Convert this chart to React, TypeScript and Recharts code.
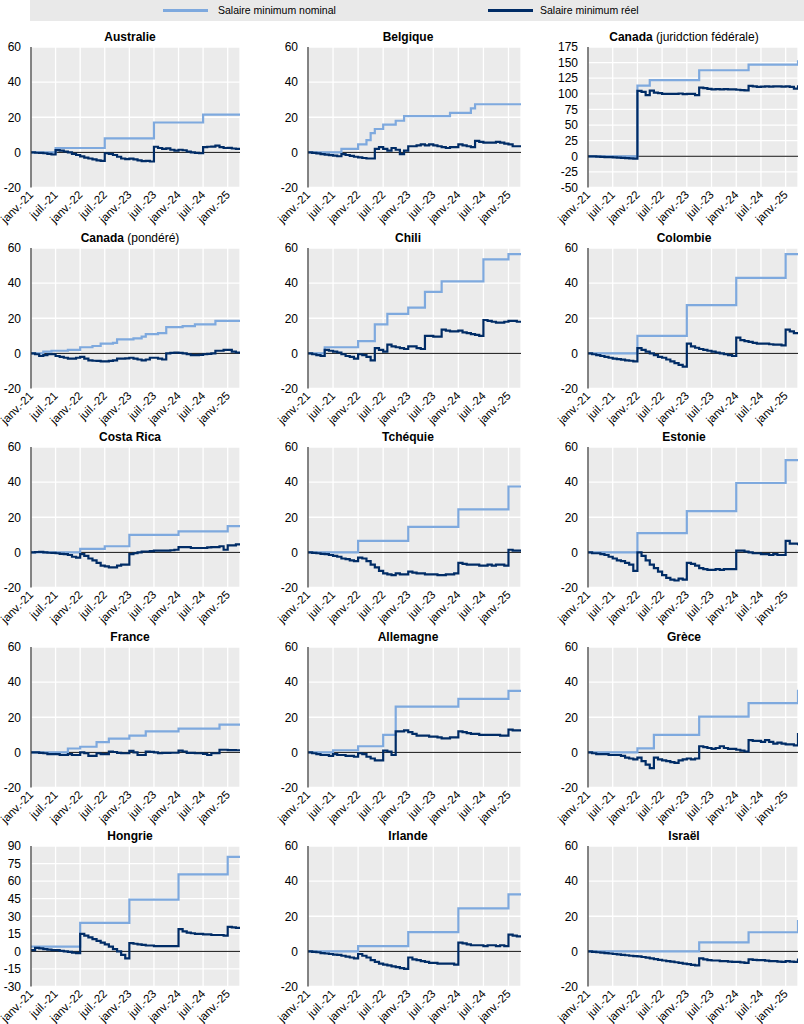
import React from "react";
import { LineChart, Line, XAxis, YAxis, CartesianGrid, ReferenceLine } from "recharts";

// ---------- tick labels ----------
const xTickValues = [0, 6, 12, 18, 24, 30, 36, 42, 48];
const xTickLabels = ["janv.-21", "juil.-21", "janv.-22", "juil.-22", "janv.-23", "juil.-23", "janv.-24", "juil.-24", "janv.-25"];
const ticksStd = [-20, 0, 20, 40, 60];
const ticksCanFed = [-50, -25, 0, 25, 50, 75, 100, 125, 150, 175];
const ticksHongrie = [-30, -15, 0, 15, 30, 45, 60, 75, 90];

// ---------- series (monthly, janv.-21 .. avr.-25) ----------
const australieNominal = [0,0,0,0,0,0, 2.5,2.5,2.5,2.5,2.5,2.5,2.5,2.5,2.5,2.5,2.5,2.5, 8,8,8,8,8,8,8,8,8,8,8,8, 17,17,17,17,17,17,17,17,17,17,17,17, 21.5,21.5,21.5,21.5,21.5,21.5,21.5,21.5,21.5,21.5];
const australieReel = [0,-0.2,-0.3,-0.5,-0.8,-1.2, 1.3,1.0,0.5,0,-0.8,-1.5, -2.3,-3,-3.5,-4,-4.5,-4.8, -0.5,-0.8,-1.5,-2.5,-3.5,-3.8, -3.6,-4,-4.5,-5,-4.8,-5.2, 3.2,2.5,2,2.3,1.5,1, 1.5,1.2,0.5,0,-0.3,-0.5, 3,3.2,3.3,3.8,3,2.5, 2.6,2.2,2,1.5];

const belgiqueNominal = [0,0,0,0,0,0,0,0, 2,2,2,2, 4.5,4.5, 7, 11, 13.3,13.3, 15.8,15.8,15.8, 18,18, 20.6,20.6,20.6,20.6,20.6,20.6,20.6,20.6,20.6,20.6,20.6, 22.5,22.5,22.5,22.5,22.5, 25, 27.4,27.4,27.4,27.4,27.4,27.4,27.4,27.4,27.4,27.4,27.4,27.4];
const belgiqueReel = [0,-0.3,-0.6,-1,-1.3,-1.6,-1.8,-2.2, -1,-1.5,-2,-2.5, -2.8,-3.2,-3.5,-3.5, 2,3, 2,1,2.5,1.5, -1,1, 3.5,3.5,4,4.5,4,4.5, 4,3.5,3,2.5,3,3, 4.5,4,3.5,3, 6.5,6, 5.5,5.5,5.5,6,5.5,5, 4.5,3.5,3.5,4];

const canadaFedNominal = [0,0,0,0,0,0,0,0,0,0,0,0, 113,113,113, 121.8,121.8,121.8,121.8,121.8,121.8,121.8,121.8,121.8,121.8,121.8,121.8, 137.8,137.8,137.8,137.8,137.8,137.8,137.8,137.8,137.8,137.8,137.8,137.8, 146.8,146.8,146.8,146.8,146.8,146.8,146.8,146.8,146.8,146.8,146.8,146.8, 153.7];
const canadaFedReel = [0,-0.3,-0.6,-0.9,-1.2,-1.5,-1.8,-2.1,-2.4,-2.8,-3.2,-3.6, 104.8,103,98, 105,102,101,100,100,100,100,100.5,99.5,100,100,98, 110,109,108,107,107.5,107,107.5,107,107,106.5,106,105.5, 112.8,112,111,111.5,112,111.5,112,112,111.5,112,111,108.5, 113.8];

const canadaPondNominal = [0,0,0,1,1,1.5,1.5,1.5,1.5,2,2,2, 3.5,3.5,3.5,4.2,4.2,5.5,5.5,5.5,6,8,8,8, 8,8.5,8.5,9.5,11,11,11,11.5,11.5,15,15,15, 15,15.5,15.5,15.5,16.5,16.5,16.5,16.5,16.5,18.5,18.5,18.5, 18.5,18.5,18.5,18.5];
const canadaPondReel = [0,-0.5,-1.5,-1,-0.5,-0.5,-1.5,-2,-2.5,-3,-3,-2.5, -2,-3,-4,-4.2,-4.3,-4.5,-4.5,-4.3,-4,-3,-3,-2.8, -2.5,-3,-3.5,-4,-3.5,-2.5,-2.5,-3,-3.5,0,0.3,0.5, 0.3,0,-0.5,-1,-1,-0.8,-0.5,-0.3,0,1.5,1.5,2, 2,1,0.5,0.5];

const chiliNominal = [0,0,0,0, 3.5,3.5,3.5,3.5,3.5,3.5,3.5,3.5, 7,7,7,7, 16.5,16.5,16.5, 22.5,22.5,22.5,22.5,22.5, 26,26,26,26, 35,35,35,35, 41,41,41,41,41,41,41,41,41,41, 53.5,53.5,53.5,53.5,53.5,53.5, 56.5,56.5,56.5,56.5];
const chiliReel = [0,-0.5,-1,-1.5, 2,1.5,1,0.5,-0.5,-1.5,-2,-3, -0.5,-1,-2,-4, 3,2,1, 5,4,3.5,3,2.5, 4,4,3,2.5, 10,10,9.5,9.5, 13.5,13,12.5,12.5,13,12,11.5,11,10.5,10, 19,18.5,18,17.5,17.5,18, 18.5,18.5,18,17.5];

const colombieNominal = [0,0,0,0,0,0,0,0,0,0,0,0, 10,10,10,10,10,10,10,10,10,10,10,10, 27.5,27.5,27.5,27.5,27.5,27.5,27.5,27.5,27.5,27.5,27.5,27.5, 43,43,43,43,43,43,43,43,43,43,43,43, 56.5,56.5,56.5,56.5];
const colombieReel = [0,-0.5,-1,-1.5,-2,-2.5,-3,-3.3,-3.6,-4,-4.2,-4.5, 3,2,1,0,-1,-2,-2.5,-3.5,-4.5,-5.5,-6.5,-7.5, 5.5,4,3.2,2.5,2,1.5,1,0.5,0,-0.5,-1,-1.5, 9,7.5,7,6.5,6,5.5,5.5,5.5,5.2,5,5,4.5, 13.5,12.5,11.5,11];

const costaRicaNominal = [0,0,0,0,0,0,0,0,0,0,0,0, 2,2,2,2,2,2, 3.5,3.5,3.5,3.5,3.5,3.5, 10,10,10,10,10,10,10,10,10,10,10,10, 12,12,12,12,12,12,12,12,12,12,12,12, 15,15,15,15];
const costaRicaReel = [0,0.2,0.3,0,-0.2,-0.3,-0.5,-0.8,-1,-1.5,-2.5,-3, -1,-2,-3.5,-4.5,-6,-7.5,-8,-8.5,-8.5,-7.5,-7,-7, -1,-0.5,0,0.5,0.5,0.7,1,1,1,1,1.2,1.5, 3,3,3,2.5,2.5,2.5,2.5,2.8,3,3,3.5,1.5, 4,4,4.5,5];

const tchequieNominal = [0,0,0,0,0,0,0,0,0,0,0,0, 6.5,6.5,6.5,6.5,6.5,6.5,6.5,6.5,6.5,6.5,6.5,6.5, 14.5,14.5,14.5,14.5,14.5,14.5,14.5,14.5,14.5,14.5,14.5,14.5, 24.5,24.5,24.5,24.5,24.5,24.5,24.5,24.5,24.5,24.5,24.5,24.5, 37.5,37.5,37.5,37.5];
const tchequieReel = [0,-0.3,-0.5,-0.8,-1,-1.5,-2,-2.5,-3.5,-3.8,-4.5,-5, -3,-3.5,-5,-7,-8.5,-10.5,-12,-12.5,-13,-12,-12.5,-12.5, -11,-11.5,-12,-12,-12.5,-12.5,-12.5,-13,-13,-12.5,-12.5,-12, -6,-6.5,-7,-7,-7,-7.5,-7.5,-7,-7.5,-7,-7,-7.5, 1.5,1,1,1.5];

const estonieNominal = [0,0,0,0,0,0,0,0,0,0,0,0, 11,11,11,11,11,11,11,11,11,11,11,11, 23.5,23.5,23.5,23.5,23.5,23.5,23.5,23.5,23.5,23.5,23.5,23.5, 39.5,39.5,39.5,39.5,39.5,39.5,39.5,39.5,39.5,39.5,39.5,39.5, 52.5,52.5,52.5,52.5];
const estonieReel = [0,-0.5,-0.5,-1,-1.5,-2.5,-3.5,-4.5,-5,-6,-7,-10.5, 0,-2,-4.5,-7,-9,-11,-13,-14.5,-15.5,-16,-15,-15.5, -6,-6.5,-7.5,-9,-9.5,-10,-10,-9.5,-10,-9.5,-9.5,-9.5, 1,1,0.5,0,-0.5,-0.5,-1,-1,-1.5,-1,-1.5,-1.5, 6.5,5,5,4];

const franceNominal = [0,0,0,0,0,0,0,0,0, 2.2,2.2,2.2, 3.2,3.2,3.2,3.2, 5.8,5.8,5.8, 7.8,7.8,7.8,7.8,7.8, 9.5,9.5,9.5,9.5, 12,12,12,12,12,12,12,12, 13.5,13.5,13.5,13.5,13.5,13.5,13.5,13.5,13.5,13.5, 15.8,15.8,15.8,15.8,15.8,15.8];
const franceReel = [0,0,-0.3,-0.5,-1,-1,-1,-1.5,-1.5, -1,-1.5,-1.5, 0,-0.5,-2,-2, -0.5,-1,-1, 0.5,0.2,-0.3,-0.5,-0.5, 0.8,0,-1.5,-1.5, 0.5,0.3,0,-0.5,-0.3,-0.3,-0.2,-0.2, 1,0.5,-0.3,-0.3,-0.5,-0.5,-0.8,-1.5,-0.5,-0.5, 1.5,1.5,1.3,1.3,1.2,1];

const allemagneNominal = [0,0,0,0,0,0, 1.2,1.2,1.2,1.2,1.2,1.2, 3.5,3.5,3.5,3.5,3.5,3.5, 10,10,10, 26,26,26,26,26,26,26,26,26,26,26,26,26,26,26, 30.5,30.5,30.5,30.5,30.5,30.5,30.5,30.5,30.5,30.5,30.5,30.5, 35,35,35,35];
const allemagneReel = [0,-0.5,-1,-1.5,-1.5,-2, -1,-1.5,-1.5,-2,-2,-2.5, -0.5,-1,-2.5,-3.5,-4.5,-4.5, 1,0.5,-1.5, 12,12,12.5,11.5,10.5,9.5,9.5,9.5,9,9,8.5,8,8,8.5,8.5, 12,11.5,11,10.5,10.5,10,10,10,10,10,9.5,9.5, 13,12.5,12.5,12];

const greceNominal = [0,0,0,0,0,0,0,0,0,0,0,0, 2.3,2.3,2.3,2.3, 10,10,10,10,10,10,10,10,10,10,10, 20.3,20.3,20.3,20.3,20.3,20.3,20.3,20.3,20.3,20.3,20.3,20.3, 28,28,28,28,28,28,28,28,28,28,28,28, 35.7];
const greceReel = [0,-0.5,-1,-1,-1,-1.5,-1.5,-1.5,-2,-3,-3.5,-4, -3,-5,-7,-9, -3,-4,-4.5,-5,-5.5,-6,-4.5,-4,-3.5,-4,-3.5, 3.5,3,2.5,2,2.5,3.5,2.5,2,2,1.5,1,0.5, 7,6.5,6.5,6,7,6,5,5.5,5,4.5,4.5,4, 11];

const hongrieNominal = [4,4,4,4,4,4,4,4,4,4,4,4, 24.3,24.3,24.3,24.3,24.3,24.3,24.3,24.3,24.3,24.3,24.3,24.3, 44.2,44.2,44.2,44.2,44.2,44.2,44.2,44.2,44.2,44.2,44.2,44.2, 65.8,65.8,65.8,65.8,65.8,65.8,65.8,65.8,65.8,65.8,65.8,65.8, 80.7,80.7,80.7,80.7];
const hongrieReel = [1,3,2.5,2,1.5,1,1,0.5,0,-0.5,-1,-1.5, 15,13.5,12,10.5,9,7.5,6,4,2,0,-3,-6, 7,6.5,6,5.5,5,5,4.5,4.5,4.5,4.5,4.5,4.5, 19,17,16,15.5,15,15,14.5,14.5,14,14,14,13.5, 21,20.5,20,20];

const irlandeNominal = [0,0,0,0,0,0,0,0,0,0,0,0, 3,3,3,3,3,3,3,3,3,3,3,3, 11,11,11,11,11,11,11,11,11,11,11,11, 24.5,24.5,24.5,24.5,24.5,24.5,24.5,24.5,24.5,24.5,24.5,24.5, 32.4,32.4,32.4,32.4];
const irlandeReel = [0,-0.3,-0.5,-1,-1.2,-1.5,-1.8,-2,-2.5,-3,-3.5,-4, -1.5,-2.5,-3.5,-5,-6,-7,-7.5,-8,-8.5,-9,-9.5,-10, -3.5,-4.5,-5,-5.5,-6,-6.5,-6.5,-7,-7,-7,-7,-7.5, 5,4.5,4,3.5,3.5,3.5,3,3.5,3.5,3,3.5,3, 9.5,9,8.5,8];

const israelNominal = [0,0,0,0,0,0,0,0,0,0,0,0,0,0,0,0,0,0,0,0,0,0,0,0,0,0,0, 5.1,5.1,5.1,5.1,5.1,5.1,5.1,5.1,5.1,5.1,5.1,5.1, 10.9,10.9,10.9,10.9,10.9,10.9,10.9,10.9,10.9,10.9,10.9,10.9, 17.9];
const israelReel = [0,-0.3,-0.5,-0.7,-1,-1.2,-1.5,-1.7,-2,-2.2,-2.5,-2.7, -2.9,-3.2,-3.6,-4,-4.4,-4.8,-5.2,-5.5,-5.8,-6.2,-6.6,-7, -7.3,-7.7,-8, -4,-4.5,-5,-5.2,-5.2,-5.5,-5.5,-5.8,-6,-6,-6.3,-6.5, -4.5,-4.8,-5,-5,-5.3,-5.5,-5.5,-5.8,-6,-5.5,-5.8,-6, -4];

// ---------- panels ----------
type PanelDef = { title: string; sub?: string; nominal: number[]; real: number[]; domain: [number, number]; ticks: number[] };

const panels: PanelDef[] = [
  { title: "Australie", nominal: australieNominal, real: australieReel, domain: [-20, 60], ticks: ticksStd },
  { title: "Belgique", nominal: belgiqueNominal, real: belgiqueReel, domain: [-20, 60], ticks: ticksStd },
  { title: "Canada", sub: " (juridction fédérale)", nominal: canadaFedNominal, real: canadaFedReel, domain: [-50, 175], ticks: ticksCanFed },
  { title: "Canada", sub: " (pondéré)", nominal: canadaPondNominal, real: canadaPondReel, domain: [-20, 60], ticks: ticksStd },
  { title: "Chili", nominal: chiliNominal, real: chiliReel, domain: [-20, 60], ticks: ticksStd },
  { title: "Colombie", nominal: colombieNominal, real: colombieReel, domain: [-20, 60], ticks: ticksStd },
  { title: "Costa Rica", nominal: costaRicaNominal, real: costaRicaReel, domain: [-20, 60], ticks: ticksStd },
  { title: "Tchéquie", nominal: tchequieNominal, real: tchequieReel, domain: [-20, 60], ticks: ticksStd },
  { title: "Estonie", nominal: estonieNominal, real: estonieReel, domain: [-20, 60], ticks: ticksStd },
  { title: "France", nominal: franceNominal, real: franceReel, domain: [-20, 60], ticks: ticksStd },
  { title: "Allemagne", nominal: allemagneNominal, real: allemagneReel, domain: [-20, 60], ticks: ticksStd },
  { title: "Grèce", nominal: greceNominal, real: greceReel, domain: [-20, 60], ticks: ticksStd },
  { title: "Hongrie", nominal: hongrieNominal, real: hongrieReel, domain: [-30, 90], ticks: ticksHongrie },
  { title: "Irlande", nominal: irlandeNominal, real: irlandeReel, domain: [-20, 60], ticks: ticksStd },
  { title: "Israël", nominal: israelNominal, real: israelReel, domain: [-20, 60], ticks: ticksStd },
];

const NOMINAL_COLOR = "#7EA9DE";
const REAL_COLOR = "#002C66";
const FONT = "'Liberation Sans', Arial, Helvetica, sans-serif";

const cols = [
  { left: 0, yW: 31, plotW: 209, titleC: 130 },
  { left: 268, yW: 40, plotW: 213, titleC: 408 },
  { left: 548, yW: 40, plotW: 210, titleC: 684 },
];
const rowTops = [47, 248, 447, 647, 846];
const PLOT_H = 140.5;
const TOP_M = 8;
const X_H = 50;

const XTick = (props: any) => {
  const { x, y, payload } = props;
  const idx = xTickValues.indexOf(payload.value);
  const label = idx >= 0 ? xTickLabels[idx] : "";
  const tx = x + 3;
  const ty = y + 8;
  return (
    <text x={tx} y={ty} transform={`rotate(-45 ${tx} ${ty})`} textAnchor="end" fontSize={11.5} fill="#000">
      {label}
    </text>
  );
};

function Panel({ def, col, row }: { def: PanelDef; col: number; row: number }) {
  const c = cols[col];
  const top = rowTops[row];
  const data = def.nominal.map((v, i) => ({ i, nominal: v, real: def.real[i] }));
  return (
    <>
      <div
        style={{
          position: "absolute",
          left: c.titleC - 110,
          width: 220,
          top: top - 18,
          height: 16,
          lineHeight: "16px",
          textAlign: "center",
          fontSize: 12,
          color: "#000",
          whiteSpace: "nowrap",
        }}
      >
        <span style={{ fontWeight: "bold" }}>{def.title}</span>
        {def.sub ? <span>{def.sub}</span> : null}
      </div>
      <div style={{ position: "absolute", left: c.left, top: top - TOP_M }}>
        <LineChart
          width={c.yW + c.plotW}
          height={TOP_M + PLOT_H + X_H}
          data={data}
          margin={{ top: TOP_M, right: 0, bottom: 0, left: 0 }}
          style={{ overflow: "visible" }}
        >
          <CartesianGrid fill="#EBEBEB" stroke="#FFFFFF" strokeWidth={1.3} />
          <XAxis
            dataKey="i"
            type="number"
            domain={[0, 51]}
            ticks={xTickValues}
            interval={0}
            axisLine={false}
            tickLine={false}
            tickSize={0}
            tickMargin={0}
            height={X_H}
            tick={<XTick />}
          />
          <YAxis
            type="number"
            domain={def.domain}
            ticks={def.ticks}
            interval={0}
            width={c.yW}
            axisLine={{ stroke: "#333", strokeWidth: 1.2 }}
            tickLine={false}
            tickSize={8}
            tickMargin={2}
            tick={{ fontSize: 12, fill: "#000" }}
            allowDataOverflow
          />
          <ReferenceLine y={0} stroke="#111" strokeWidth={1} />
          <Line type="stepAfter" dataKey="nominal" stroke={NOMINAL_COLOR} strokeWidth={2.2} dot={false} isAnimationActive={false} />
          <Line type="stepAfter" dataKey="real" stroke={REAL_COLOR} strokeWidth={2.2} dot={false} isAnimationActive={false} />
        </LineChart>
      </div>
    </>
  );
}

export default function App() {
  return (
    <div style={{ position: "absolute", left: 0, top: 0, width: 804, height: 1024, background: "#fff", fontFamily: FONT, overflow: "hidden" }}>
      <div style={{ position: "absolute", left: 30, top: 0, width: 774, height: 21, background: "#E9E9E9" }} />
      <div style={{ position: "absolute", left: 163, top: 9, width: 45, height: 3, background: NOMINAL_COLOR }} />
      <div style={{ position: "absolute", left: 218, top: 3, fontSize: 10.5, lineHeight: "15px", color: "#000" }}>Salaire minimum nominal</div>
      <div style={{ position: "absolute", left: 488, top: 9, width: 45, height: 3, background: REAL_COLOR }} />
      <div style={{ position: "absolute", left: 540, top: 3, fontSize: 10.5, lineHeight: "15px", color: "#000" }}>Salaire minimum réel</div>
      {panels.map((p, k) => (
        <Panel key={k} def={p} col={k % 3} row={Math.floor(k / 3)} />
      ))}
    </div>
  );
}
